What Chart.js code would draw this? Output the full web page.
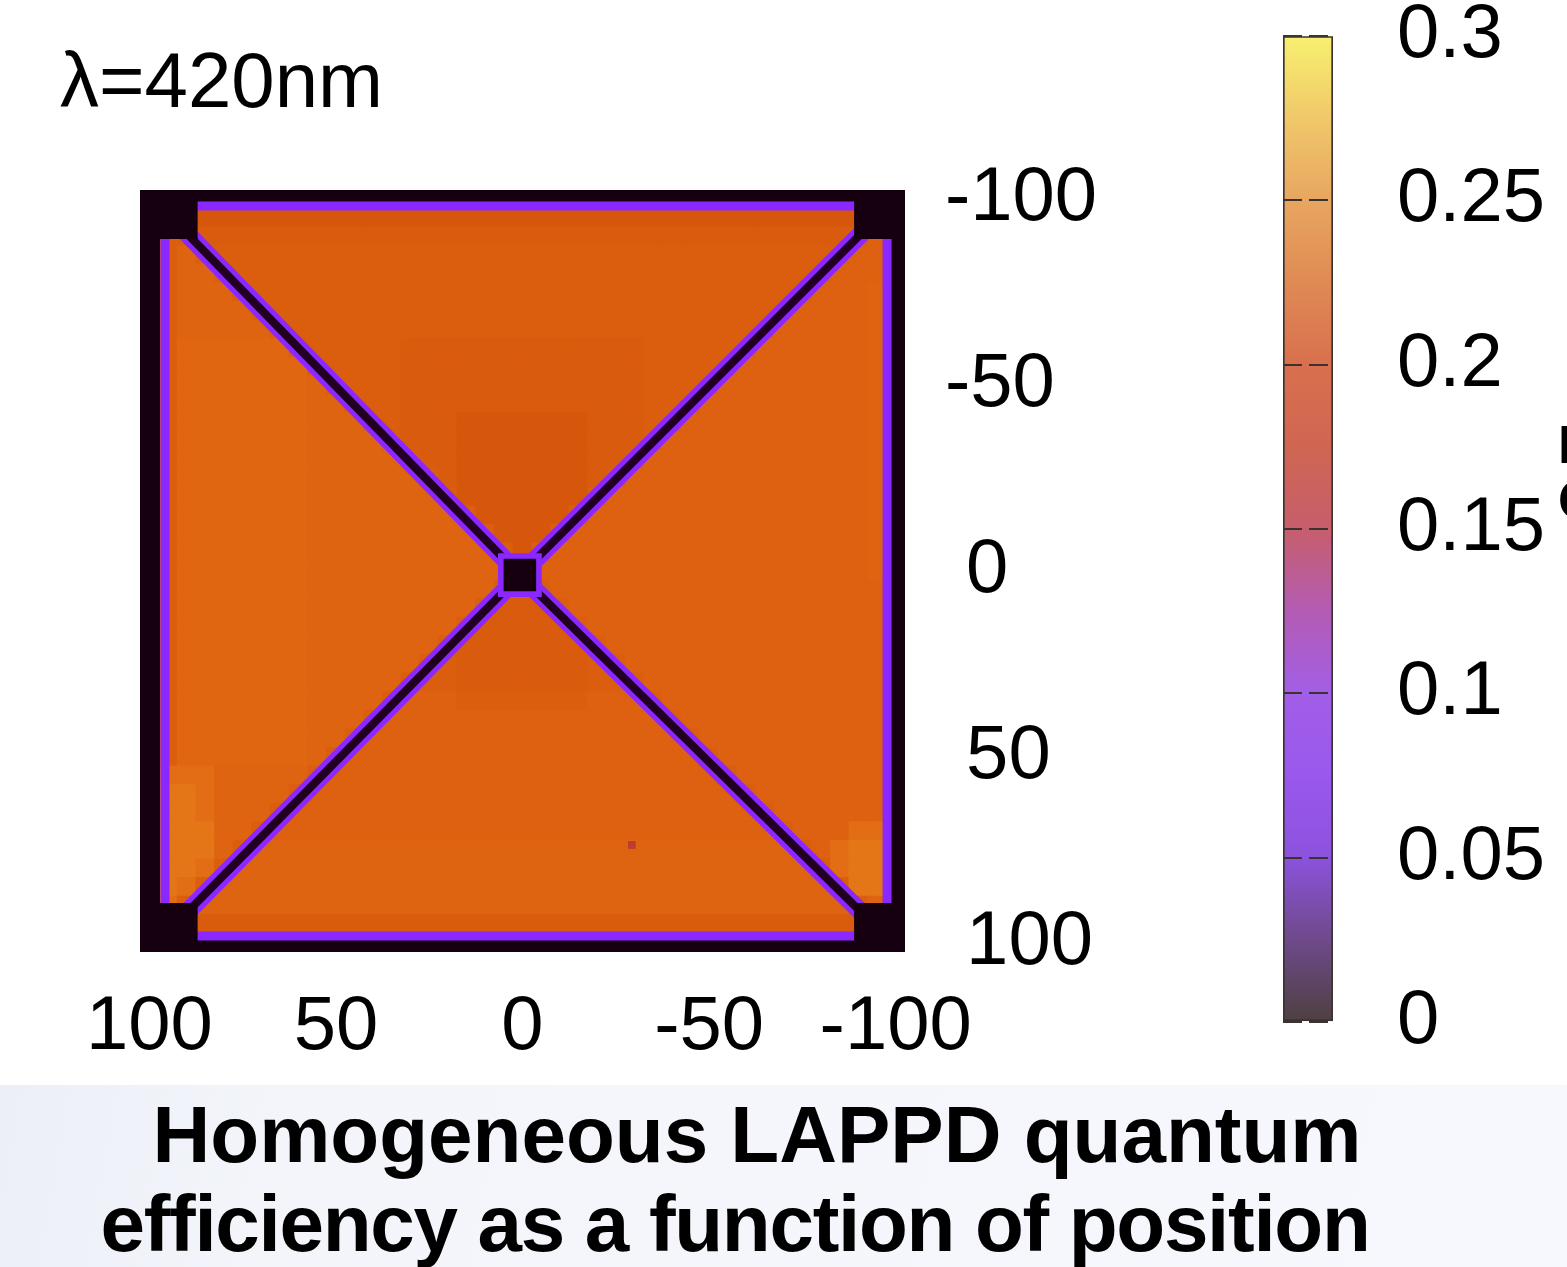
<!DOCTYPE html>
<html lang="en">
<head>
<meta charset="utf-8">
<title>LAPPD quantum efficiency map</title>
<script src="https://cdn.jsdelivr.net/npm/chart.js@4.4.1/dist/chart.umd.min.js"></script>
<style>
  html, body { margin: 0; padding: 0; background: #ffffff; }
  body { position: relative; width: 1567px; height: 1267px; overflow: hidden;
         font-family: "Liberation Sans", Arial, Helvetica, sans-serif; color: #000; }
  #band { position: absolute; left: 0; top: 1085px; width: 1567px; height: 182px;
          background: linear-gradient(100deg, #eceff6 0%, #f3f5fb 18%, #f6f8fd 100%); }
  canvas { position: absolute; top: 0; }
  #map { left: 0; }
  #cbar { left: 1200px; }
  .label { position: absolute; white-space: nowrap; }
  #lambda { left: 60px; top: 41px; font-size: 78px; line-height: 78px; }
  #side { left: 1558px; top: 417px; font-size: 53px; line-height: 55px; font-weight: bold; }
  .caption { text-align: center; font-size: 80px; line-height: 89px; font-weight: bold; }
  #cap1 { left: 0; top: 1090px; width: 1514px; }
  #cap2 { left: 0; top: 1179px; width: 1470px; letter-spacing: -1.3px; }
</style>
</head>
<body>
<div id="band"></div>
<canvas id="map" width="1200" height="1080"></canvas>
<canvas id="cbar" width="367" height="1080"></canvas>
<div class="label" id="lambda">λ=420nm</div>
<div class="label" id="side">LAPPD<br>QE</div>
<div class="label caption" id="cap1">Homogeneous LAPPD quantum</div>
<div class="label caption" id="cap2">efficiency as a function of position</div>
<script>
const FONT = '"Liberation Sans", Arial, Helvetica, sans-serif';

// scan grid centres (mm), columns left to right, rows top to bottom
const gridX = [100, 95, 90, 85, 80, 75, 70, 65, 60, 55, 50, 45, 40, 35, 30, 25, 20, 15, 10, 5, 0,
               -5, -10, -15, -20, -25, -30, -35, -40, -45, -50, -55, -60, -65, -70, -75, -80, -85, -90, -95, -100];
const gridY = [-100, -95, -90, -85, -80, -75, -70, -65, -60, -55, -50, -45, -40, -35, -30, -25, -20, -15, -10, -5, 0,
               5, 10, 15, 20, 25, 30, 35, 40, 45, 50, 55, 60, 65, 70, 75, 80, 85, 90, 95, 100];

// QE level of each code letter used in the rows
const qeCodes  = ['2', '3', '4', '5', '6', '7', '8', 'a'];
const qeValues = [0.198, 0.201, 0.203, 0.206, 0.208, 0.210, 0.215, 0.222];

// background QE, one string per row (spaces only for reading)
const qeRows = [
  '2222222222 2222222222 2222222222 2222222222 2',
  '34 2222222222 2222222222 2222222222 2222222 44',
  '344 3333333333 3333333333 3333333333 33333 454',
  '346 4444444444 4444444444 4444444444 44444 554',
  '3466 4444444444 4444444444 4444444444 444 5554',
  '34666 4444444444 4444444444 4444444444 4 55564',
  '346666 4444444444 4444444444 444444444 555564',
  '3466666 4444444444 4444444444 4444444 5555564',
  '34777777 444444 3333333333 333 444444 555555 64',
  '34 7777777 44444 3333333333 333 44444 5555555 64',
  '34 7777777 6 4444 3333333333 333 4444 55555555 64',
  '34 7777777 66 444 3333333333 333 444 555555555 64',
  '34 7777777 666 44 333 2222222 333 44 5555555555 64',
  '34 7777777 6666 4 333 2222222 333 4 5555555555 5 64',
  '34 7777777 66666 4 33 2222222 33 4 5555555555 55 64',
  '34 7777777 666666 4 3 2222222 3 4 5555555555 555 64',
  '34 7777777 6666666 4 2222222 4 5555555555 5555 64',
  '34 7777777 66666666 4 22222 4 5555555555 55555 64',
  '34 7777777 666666666 4 222 4 5555555555 555555 64',
  '34 7777777 6666666666 4 2 4 5555555555 5555555 64',
  '34 7777777 6666666666 6 4 5555555555 55555555 64',
  '34 7777777 6666666666 434 5555555555 55555555 4',
  '34 7777777 666666666 43334 5555555555 5555555 4',
  '34 7777777 66666666 4333334 5555555555 555555 4',
  '34 7777777 6666666 433333334 5555555555 55555 4',
  '34 7777777 666666 44 3333333 44 5555555555 5555 4',
  '34 7777777 66666 444 3333333 444 5555555555 555 4',
  '34 7777777 6666 4 555 4444444 555 4 5555555555 55 4',
  '34 7777777 666 4 5555555555 55555 4 5555555555 5 4',
  '34 7777777 66 4 5555555555 5555555 4 5555555555 4',
  '34 7777777 6 4 5555555555 555555555 4 555555555 4',
  '3 888 66666 4 5555555555 5555555555 5 4 55555555 4',
  '3 aa8 6666 4 5555555555 5555555555 555 4 5555555 4',
  '3 aa8 666 4 5555555555 5555555555 55555 4 555555 4',
  '3 aaa 66 4 5555555555 5555555555 5555555 4 555884',
  '3 aaa 6 4 6666666666 6666666666 666666666 4 58aa4',
  '3 aa8 4 6666666666 6666666666 6666666666 6 4 8aa4',
  '3a8 4 6666666666 6666666666 6666666666 666 4 aa4',
  '38 4 6666666666 6666666666 6666666666 66666 4 64',
  '3 4 3333333333 3333333333 3333333333 3333333 4 4',
  '2222222222 2222222222 2222222222 2222222222 2'
];

// low-QE structures on the photocathode (mm) and their QE
const frameEdge   = [[102.5, -102.5], [-102.5, -102.5], [-102.5, 102.5], [102.5, 102.5], [102.5, -102.5]];
const frameInner  = [[95.8, -98.2], [-97.7, -98.2], [-97.7, 98.2], [95.8, 98.2], [95.8, -98.2]];
const diagonalA   = [[94, -95], [0.7, 1.1], [-95, 96]];
const diagonalB   = [[-95, -95], [0.7, 1.1], [94, 96]];
const cornerPads  = [[93.5, -95.8], [-95.3, -95.8], [93.5, 95.8], [-95.3, 95.8]];
const centrePad   = [[0.7, 1.1]];
const darkSpot    = [[-29.3, 73.7]];
const edgeQE = 0.09, coreQE = 0.012, padQE = 0.0, spotQE = 0.17;

// axis ticks
const xTicks = [100, 50, 0, -50, -100];
const xTickLabels = ['100', '50', '0', '-50', '-100'];
const yTicks = [-100, -50, 0, 50, 100];
const yTickLabels = ['-100', '-50', '0', '50', '100'];
const cbTicks = [0, 0.05, 0.1, 0.15, 0.2, 0.25, 0.3];
const cbTickLabels = ['0', '0.05', '0.1', '0.15', '0.2', '0.25', '0.3'];

// palettes: map cells and colour box
const mapStops  = [0, 0.04, 0.07, 0.09, 0.12, 0.15, 0.18, 0.20, 0.21, 0.22, 0.24, 0.30];
const mapColors = ['#160010', '#3a0048', '#6a10c8', '#8a28ff', '#a030d0', '#b43060',
                   '#c44010', '#d85a0c', '#e06612', '#e47416', '#e88a2a', '#f8f040'];
const cbStops  = [0, 0.025, 0.05, 0.075, 0.1, 0.125, 0.15, 0.175, 0.2, 0.225, 0.25, 0.275, 0.3];
const cbColors = ['#4e4040', '#6e4a8a', '#8c52dc', '#9a58ee', '#a25ee6', '#b45cb4', '#c65e6c',
                  '#d06652', '#d8704e', '#e08a54', '#e8a660', '#f0c86a', '#f8f070'];

function hexToRgb(h) {
    const n = parseInt(h.slice(1), 16);
    return [n >> 16, (n >> 8) & 255, n & 255];
}
function mapColor(v) {
    if (v <= mapStops[0]) return mapColors[0];
    for (let k = 1; k < mapStops.length; k++) {
        if (v <= mapStops[k]) {
            const t = (v - mapStops[k - 1]) / (mapStops[k] - mapStops[k - 1]);
            const a = hexToRgb(mapColors[k - 1]), b = hexToRgb(mapColors[k]);
            return 'rgb(' + a.map((c, m) => Math.round(c + (b[m] - c) * t)).join(',') + ')';
        }
    }
    return mapColors[mapColors.length - 1];
}

const rows = qeRows.map(r => r.replace(/\s+/g, ''));
let cells = [];
rows.forEach((row, j) => {
    gridX.forEach((x, i) => {
        let code = row[i] || row[row.length - 1];
        cells.push({ x: x, y: gridY[j], v: qeValues[qeCodes.indexOf(code)] });
    });
});

function cellRadius(ctx) {
    let sx = ctx.chart.scales.x;
    let w = Math.abs(sx.getPixelForValue(gridX[0]) - sx.getPixelForValue(gridX[1]));
    return (w + 1) / Math.SQRT2;
}
function xy(list) {
    return list.map(p => ({ x: p[0], y: p[1] }));
}
function lineSet(points, qe, width, order) {
    return {
        data: xy(points), showLine: true, borderColor: mapColor(qe), borderWidth: width,
        pointRadius: 0, pointHoverRadius: 0, borderJoinStyle: 'miter', borderCapStyle: 'butt',
        tension: 0, clip: 0, order: order
    };
}
function blockSet(points, qe, radius, order) {
    return {
        data: xy(points), pointStyle: 'rect', pointRadius: radius, pointHoverRadius: radius,
        pointBackgroundColor: mapColor(qe), pointBorderWidth: 0, clip: 0, order: order
    };
}

const tickFont = { family: FONT, size: 76 };

const mapChart = new Chart(document.getElementById('map'), {
    type: 'scatter',
    data: {
        datasets: [
            {
                data: cells, pointStyle: 'rect', pointRadius: cellRadius, pointHoverRadius: cellRadius,
                pointBackgroundColor: ctx => ctx.raw ? mapColor(ctx.raw.v) : mapColor(0.206),
                pointBorderWidth: 0, order: 10
            },
            lineSet(frameEdge, padQE, 40, 9),
            lineSet(frameInner, edgeQE, 9, 8),
            lineSet(diagonalA, edgeQE, 18, 7),
            lineSet(diagonalB, edgeQE, 18, 7),
            lineSet(diagonalA, coreQE, 8, 6),
            lineSet(diagonalB, coreQE, 8, 6),
            blockSet(cornerPads, padQE, 34, 5),
            blockSet(centrePad, edgeQE, 31, 4),
            blockSet(centrePad, padQE, 23, 3),
            blockSet(darkSpot, spotQE, 5.5, 2)
        ]
    },
    options: {
        responsive: false,
        animation: false,
        events: [],
        layout: { padding: { left: 140, top: 190, right: 0, bottom: 0 } },
        plugins: { legend: { display: false }, tooltip: { enabled: false } },
        scales: {
            x: {
                type: 'linear', min: -102.5, max: 102.5, reverse: true, position: 'bottom',
                afterBuildTicks: s => { s.ticks = xTicks.map(v => ({ value: v })); },
                ticks: {
                    callback: v => xTickLabels[xTicks.indexOf(v)],
                    font: tickFont, color: '#000', padding: 30, maxRotation: 0, autoSkip: false
                },
                grid: { display: false, drawTicks: false, tickLength: 0 },
                border: { display: false },
                afterFit: s => { s.height = 128; }
            },
            y: {
                type: 'linear', min: -102.5, max: 102.5, reverse: true, position: 'right',
                afterBuildTicks: s => { s.ticks = yTicks.map(v => ({ value: v })); },
                ticks: {
                    // digits line up, the minus sign hangs to the left
                    callback: v => (v >= 0 ? ' ' : '') + yTickLabels[yTicks.indexOf(v)],
                    font: tickFont, color: '#000', padding: 40, crossAlign: 'near', autoSkip: false
                },
                grid: { display: false, drawTicks: false, tickLength: 0 },
                border: { display: false },
                afterFit: s => { s.width = 295; }
            }
        }
    }
});

const cbChart = new Chart(document.getElementById('cbar'), {
    type: 'bar',
    data: {
        labels: ['QE'],
        datasets: [{
            data: [[cbTicks[0], cbTicks[cbTicks.length - 1]]],
            backgroundColor: ctx => {
                let ch = ctx.chart, ys = ch.scales.y;
                if (!ch.chartArea || !ys) return cbColors[0];
                let g = ch.ctx.createLinearGradient(0, ys.getPixelForValue(0), 0, ys.getPixelForValue(0.3));
                cbStops.forEach((s, k) => g.addColorStop(s / 0.3, cbColors[k]));
                return g;
            },
            borderColor: '#3b3232', borderWidth: 2, borderSkipped: false,
            barPercentage: 1, categoryPercentage: 1
        }]
    },
    options: {
        responsive: false,
        animation: false,
        events: [],
        layout: { padding: { left: 83, top: 36, right: 0, bottom: 58 } },
        plugins: { legend: { display: false }, tooltip: { enabled: false } },
        scales: {
            x: { display: false },
            y: {
                position: 'right', min: 0, max: 0.3,
                afterBuildTicks: s => { s.ticks = cbTicks.map(v => ({ value: v })); },
                ticks: {
                    callback: v => cbTickLabels[cbTicks.indexOf(v)],
                    font: { family: FONT, size: 76, lineHeight: 0.9 },
                    color: '#000', padding: 2, crossAlign: 'near', autoSkip: false
                },
                // the tick mark itself is invisible, it only spaces the labels off the box
                grid: { color: '#3b3232', lineWidth: 2, drawTicks: true, tickLength: 62,
                        tickColor: 'rgba(0,0,0,0)', z: 1 },
                border: { display: false, dash: [19, 7] },
                afterFit: s => { s.width = 234; }
            }
        }
    }
});

const badRows = rows.map((r, j) => r.length !== gridX.length ? j + ':' + r.length : null).filter(Boolean);
if (badRows.length) {
    setTimeout(() => { throw new Error('row length mismatch ' + badRows.join(' ')); }, 0);
}
</script>
</body>
</html>
